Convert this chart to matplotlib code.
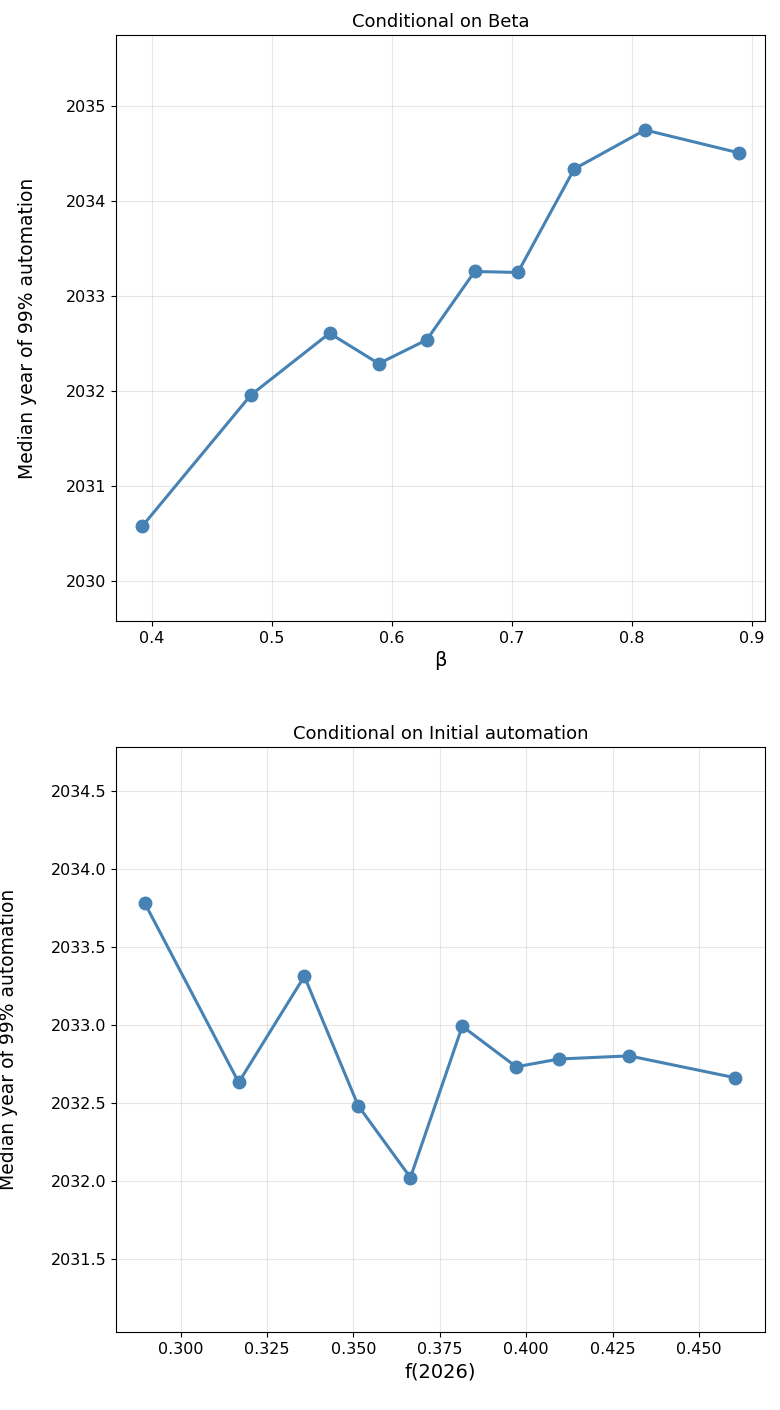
import matplotlib.pyplot as plt

# conditional medians
beta = [0.392, 0.4825, 0.548, 0.589, 0.629, 0.669, 0.705, 0.752, 0.811, 0.889]
beta_year = [2030.58, 2031.96, 2032.61, 2032.29, 2032.54, 2033.26, 2033.25, 2034.34, 2034.75, 2034.51]

f2026 = [0.2896, 0.3168, 0.3358, 0.3514, 0.3665, 0.3815, 0.3971, 0.4095, 0.4298, 0.4604]
f_year = [2033.78, 2032.63, 2033.31, 2032.48, 2032.02, 2032.99, 2032.73, 2032.78, 2032.80, 2032.66]

fig = plt.figure(figsize=(7.8, 14.1), dpi=100)
W, H = 780, 1410
ax1 = fig.add_axes([116 / W, 1 - 621 / H, 649 / W, 586 / H])
ax2 = fig.add_axes([116 / W, 1 - 1332 / H, 649 / W, 585 / H])

ax1.plot(beta, beta_year, '-o', color='steelblue', lw=2.2, ms=9)
ax1.set_title('Conditional on Beta', fontsize=13)
ax1.set_xlabel('β', fontsize=14)
ax1.set_ylabel('Median year of 99% automation', fontsize=13.5)
ax1.set_ylim(2029.58, 2035.75)
ax1.set_xlim(0.37, 0.911)
ax1.grid(True, alpha=0.3)
ax1.tick_params(labelsize=11.5)
ax1.yaxis.set_label_coords(-0.122, 0.5)

ax2.plot(f2026, f_year, '-o', color='steelblue', lw=2.2, ms=9)
ax2.set_title('Conditional on Initial automation', fontsize=13)
ax2.set_xlabel('f(2026)', fontsize=14)
ax2.set_ylabel('Median year of 99% automation', fontsize=13.5)
ax2.set_ylim(2031.03, 2034.78)
ax2.set_xlim(0.2813, 0.4691)
ax2.set_yticks([2031.5, 2032.0, 2032.5, 2033.0, 2033.5, 2034.0, 2034.5])
ax2.yaxis.set_major_formatter(plt.FormatStrFormatter('%.1f'))
ax2.xaxis.set_major_formatter(plt.FormatStrFormatter('%.3f'))
ax2.grid(True, alpha=0.3)
ax2.tick_params(labelsize=11.5)
ax2.yaxis.set_label_coords(-0.151, 0.5)

fig.savefig('out.png')
